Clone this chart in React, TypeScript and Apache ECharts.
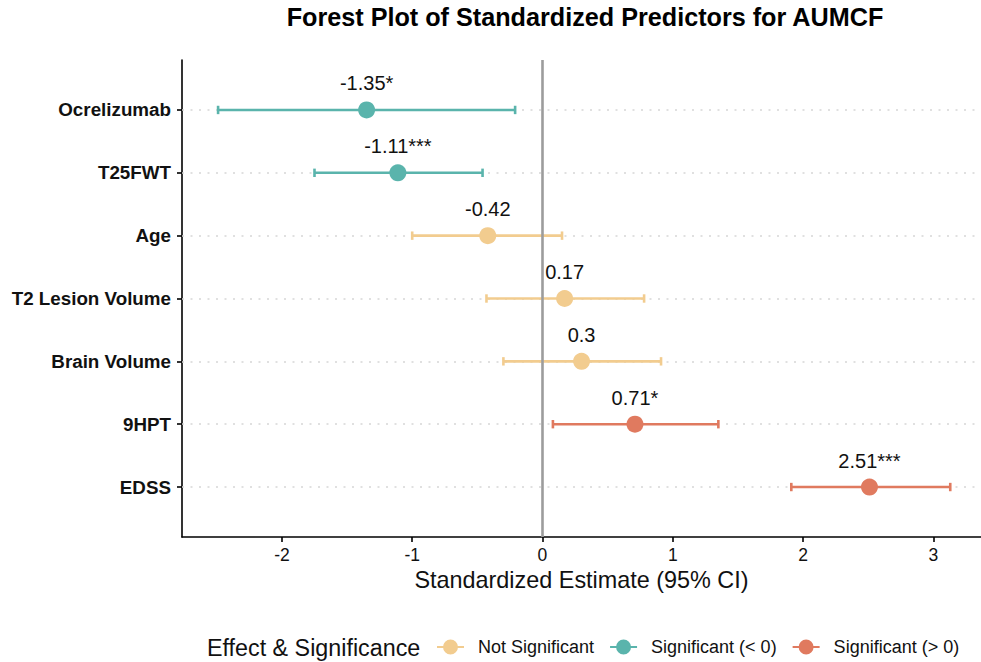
import React, { useEffect, useRef } from "react";
import * as echarts from "echarts";

const categories = ["Ocrelizumab", "T25FWT", "Age", "T2 Lesion Volume", "Brain Volume", "9HPT", "EDSS"];
const estimates = [-1.35, -1.11, -0.42, 0.17, 0.3, 0.71, 2.51];
const lowerCI = [-2.49, -1.75, -1.0, -0.43, -0.3, 0.08, 1.91];
const upperCI = [-0.21, -0.46, 0.15, 0.78, 0.91, 1.35, 3.13];
const pointLabels = ["-1.35*", "-1.11***", "-0.42", "0.17", "0.3", "0.71*", "2.51***"];
const groupNames = ["Not Significant", "Significant (< 0)", "Significant (> 0)"];
const groupOf = [1, 1, 0, 0, 0, 2, 2];
const groupColors = ["#F2CC8F", "#5AB4AC", "#E07A5F"];
const xTicks = [-2, -1, 0, 1, 2, 3];

const FONT = "'Liberation Sans', Arial, Helvetica, sans-serif";

export default function App() {
  const ref = useRef<HTMLDivElement>(null);
  useEffect(() => {
    if (!ref.current) return;
    const chart = echarts.init(ref.current, undefined, { renderer: "svg" });
    const rowIdx = categories.map((_, i) => i);

    const errData = rowIdx.map((i) => [lowerCI[i], upperCI[i], i, groupOf[i]]);

    const scatterSeries = groupNames.map((name, g) => ({
      name,
      type: "scatter",
      z: 5,
      symbol: "circle",
      symbolSize: 17,
      itemStyle: { color: groupColors[g], opacity: 1 },
      data: rowIdx.filter((i) => groupOf[i] === g).map((i) => [estimates[i], i]),
      label: {
        show: true,
        position: "top",
        distance: 8,
        fontFamily: FONT,
        fontSize: 20,
        color: "#111",
        formatter: (p: any) => pointLabels[p.data[1]],
      },
    }));

    const legendIcon =
      "path://M0,6.5L27,6.5L27,8.5L0,8.5Z M6,7.5A7.5,7.5 0 1,1 21,7.5A7.5,7.5 0 1,1 6,7.5Z";

    chart.setOption({
      animation: false,
      backgroundColor: "#fff",
      grid: { left: 182, right: 0, top: 60, bottom: 125, containLabel: false },
      graphic: [
        {
          type: "text",
          x: 585,
          y: 17,
          style: {
            text: "Forest Plot of Standardized Predictors for AUMCF",
            fontFamily: FONT,
            fontWeight: "bold",
            fontSize: 25.2,
            fill: "#000",
            textAlign: "center",
            textVerticalAlign: "middle",
          },
        },
        {
          type: "text",
          x: 207,
          y: 648,
          style: {
            text: "Effect & Significance",
            fontFamily: FONT,
            fontSize: 23.3,
            fill: "#111",
            textAlign: "left",
            textVerticalAlign: "middle",
          },
        },
      ],
      legend: {
        left: 437,
        top: 638,
        padding: 0,
        itemGap: 16,
        itemWidth: 27,
        itemHeight: 15,
        icon: legendIcon,
        data: groupNames,
        textStyle: { fontFamily: FONT, fontSize: 18, color: "#111", padding: [0, 0, 0, 9] },
      },
      xAxis: {
        type: "value",
        min: -2.767,
        max: 3.366,
        name: "Standardized Estimate (95% CI)",
        nameLocation: "middle",
        nameGap: 31,
        nameTextStyle: { fontFamily: FONT, fontSize: 23.4, color: "#111" },
        axisLine: { show: true, onZero: false, lineStyle: { color: "#000", width: 1.6 } },
        axisTick: { show: true, length: 5, customValues: xTicks, lineStyle: { color: "#000", width: 1.6 } },
        axisLabel: {
          customValues: xTicks,
          margin: 9,
          fontFamily: FONT,
          fontSize: 17.5,
          color: "#111",
        },
        splitLine: { show: false },
      },
      yAxis: {
        type: "value",
        inverse: true,
        min: -0.795,
        max: 6.795,
        axisLine: { show: true, onZero: false, lineStyle: { color: "#000", width: 1.6 } },
        axisTick: { show: true, length: 5, customValues: rowIdx, lineStyle: { color: "#000", width: 1.6 } },
        axisLabel: {
          customValues: rowIdx,
          margin: 11,
          fontFamily: FONT,
          fontWeight: "bold",
          fontSize: 18.8,
          color: "#111",
          formatter: (v: number) => categories[Math.round(v)] ?? "",
        },
        splitLine: { show: false },
      },
      series: [
        {
          type: "line",
          name: "grid",
          data: [],
          z: 1,
          silent: true,
          markLine: {
            z: 1,
            silent: true,
            symbol: "none",
            label: { show: false },
            lineStyle: { color: "#D6D6D6", width: 1.6, type: [2, 6.5] },
            data: rowIdx.map((i) => ({ yAxis: i })),
          },
        },
        {
          type: "custom",
          name: "errorbars",
          z: 2,
          silent: true,
          encode: { x: [0, 1], y: 2 },
          data: errData,
          renderItem: (params: any, api: any) => {
            const y = api.value(2);
            const g = api.value(3);
            const lo = api.coord([api.value(0), y]);
            const hi = api.coord([api.value(1), y]);
            const color = groupColors[g];
            const style = { stroke: color, lineWidth: 2.6 };
            const h = 4.2;
            return {
              type: "group",
              children: [
                { type: "line", shape: { x1: lo[0], y1: lo[1], x2: hi[0], y2: hi[1] }, style },
                { type: "line", shape: { x1: lo[0], y1: lo[1] - h, x2: lo[0], y2: lo[1] + h }, style },
                { type: "line", shape: { x1: hi[0], y1: hi[1] - h, x2: hi[0], y2: hi[1] + h }, style },
              ],
            };
          },
        },
        {
          type: "line",
          name: "zero",
          data: [],
          z: 3,
          silent: true,
          markLine: {
            z: 3,
            silent: true,
            symbol: "none",
            label: { show: false },
            lineStyle: { color: "#9C9C9C", width: 2.6, type: "solid" },
            data: [{ xAxis: 0 }],
          },
        },
        ...scatterSeries,
      ],
    } as any);
    return () => chart.dispose();
  }, []);
  return <div ref={ref} style={{ width: 981, height: 662, position: "absolute", left: 0, top: 0 }} />;
}
